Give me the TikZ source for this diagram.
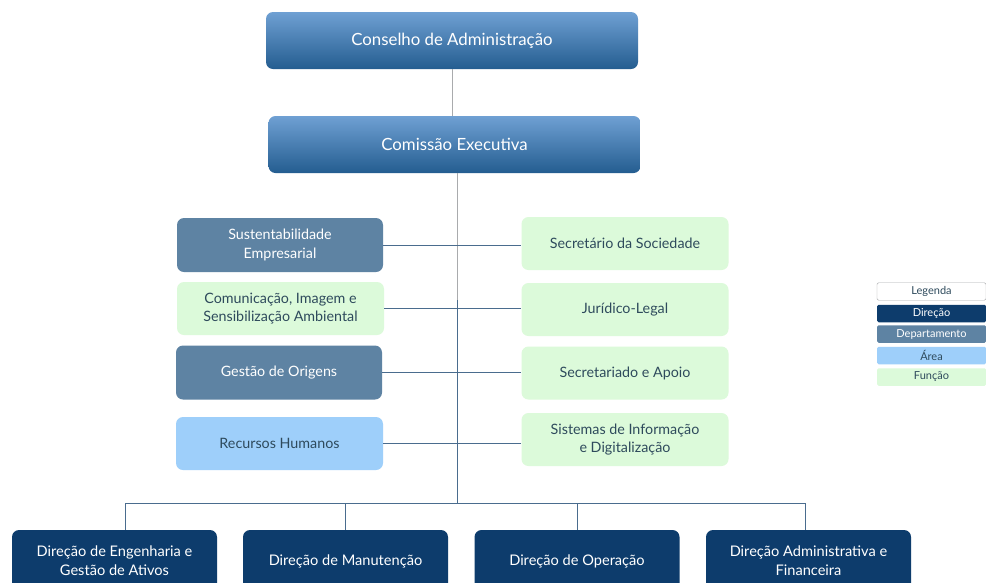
\documentclass[tikz,border=0pt]{standalone}
\usepackage{fontspec}
\setmainfont{Lato}
\usetikzlibrary{positioning}
\definecolor{topA}{HTML}{6FA0D3}
\definecolor{topB}{HTML}{245D90}
\definecolor{steel}{HTML}{5E83A3}
\definecolor{lgreen}{HTML}{DCFADA}
\definecolor{lblue}{HTML}{9ECFFA}
\definecolor{navy}{HTML}{0D3C6C}
\definecolor{dtext}{HTML}{2E4A5C}
\definecolor{linec}{HTML}{4A6C8E}
\definecolor{grayline}{HTML}{A9ABAD}
\tikzset{
  box/.style={rounded corners=7pt, inner sep=0pt, align=center, font=\fontsize{14.3}{18.5}\selectfont},
  topbox/.style={box, top color=topA, bottom color=topB, text=white, minimum width=372pt, minimum height=57pt, font=\fontsize{16.8}{20}\selectfont},
  depbox/.style={box, fill=steel, text=white, minimum width=206pt, minimum height=54pt},
  funbox/.style={box, fill=lgreen, text=dtext, minimum width=207pt, minimum height=53pt},
  areabox/.style={box, fill=lblue, text=dtext, minimum width=207pt, minimum height=53pt},
  dirbox/.style={box, fill=navy, text=white, minimum width=205pt, minimum height=62pt, font=\fontsize{14.6}{19}\selectfont},
  conn/.style={draw=linec, line width=0.9pt},
  gconn/.style={draw=grayline, line width=1pt},
  leg/.style={inner sep=0pt, minimum width=109pt, minimum height=17.5pt, font=\fontsize{11}{12}\selectfont, rounded corners=1.5pt}
}
\begin{document}
\begin{tikzpicture}[x=1pt,y=-1pt]
\useasboundingbox (0,0) rectangle (986,582);
\fill[white] (0,0) rectangle (986,582);
% top
\node[topbox] (cons) at (452,40.5) {Conselho de Administração};
\node[topbox] (com) at (454.5,144.5) {Comissão Executiva};
\coordinate (bus) at (457,503);
\coordinate (busL) at (125,503);
\coordinate (busR) at (805,503);
% left
\node[depbox] (sus) at (280,245) {Sustentabilidade\\Empresarial};
\node[funbox] (comu) at (280.5,308.5) {Comunicação, Imagem e\\Sensibilização Ambiental};
\node[depbox] (ges) at (279,372.5) {Gestão de Origens};
\node[areabox] (rh) at (279.5,443.5) {Recursos Humanos};
% right
\node[funbox] (sec) at (625,243.5) {Secretário da Sociedade};
\node[funbox] (jur) at (625,309.5) {Jurídico-Legal};
\node[funbox] (sap) at (625,373) {Secretariado e Apoio};
\node[funbox] (sis) at (625,439.5) {Sistemas de Informação\\e Digitalização};
% bottom
\node[dirbox] (eng) at (114.5,561) {Direção de Engenharia e\\Gestão de Ativos};
\node[dirbox] (man) at (345.5,561) {Direção de Manutenção};
\node[dirbox] (ope) at (577,561) {Direção de Operação};
\node[dirbox] (adm) at (808.5,561) {Direção Administrativa e\\Financeira};
% connectors
\draw[gconn] (cons.south) -- (cons.south |- com.north);
\draw[gconn] (com.south -| bus) -- (457,300);
\draw[conn] (457,300) -- (bus);
\draw[conn] (sus.east) -- (sus.east -| sec.west);
\draw[conn] (comu.east) -- (comu.east -| jur.west);
\draw[conn] (ges.east) -- (ges.east -| sap.west);
\draw[conn] (rh.east) -- (rh.east -| sis.west);
\draw[conn] (busL) -- (busR);
\draw[conn] (busL) -- (busL |- eng.north);
\draw[conn] (man.north |- bus) -- (man.north);
\draw[conn] (ope.north |- bus) -- (ope.north);
\draw[conn] (busR) -- (busR |- adm.north);
% legend
\node[leg, draw=grayline, fill=white, text=dtext] (lg) at (931.5,291.5) {Legenda};
\node[leg, fill=navy, text=white] (ld) at (931.5,313.5) {Direção};
\node[leg, fill=steel, text=white] (lp) at (931.5,334) {Departamento};
\node[leg, fill=lblue, text=dtext] (la) at (931.5,355.5) {Área};
\node[leg, fill=lgreen, text=dtext] (lf) at (931.5,377) {Função};
\end{tikzpicture}
\end{document}
